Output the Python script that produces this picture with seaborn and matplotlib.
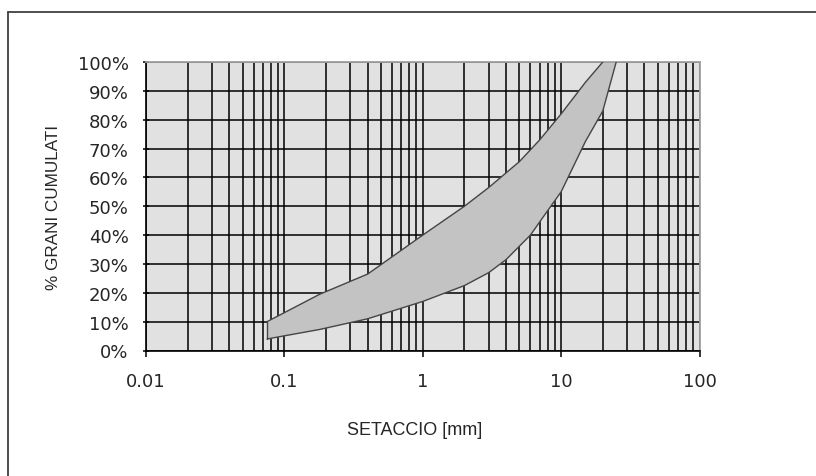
import matplotlib
matplotlib.use("Agg")
import matplotlib.pyplot as plt
import matplotlib.ticker as mticker
from matplotlib.lines import Line2D
import seaborn as sns
import pandas as pd

# ---- data ----
sieve_upper = [0.075, 0.18, 0.4, 1, 2, 3, 5, 7, 10, 15, 20]
pass_upper = [10, 19.5, 26.5, 40, 50, 56.5, 65.5, 73, 82, 93, 100]
sieve_lower = [0.075, 0.18, 0.4, 1, 2, 3, 4, 6, 8, 10, 15, 20, 25]
pass_lower = [4, 7.3, 11, 17, 22.5, 27, 31.5, 40, 48.5, 55, 72.5, 83, 100]
x_ticks = [0.01, 0.1, 1, 10, 100]
x_tick_labels = ["0.01", "0.1", "1", "10", "100"]
y_ticks = [0, 10, 20, 30, 40, 50, 60, 70, 80, 90, 100]
y_tick_labels = [f"{v}%" for v in y_ticks]

sns.set_style("white")
plt.rcParams["font.family"] = ["DejaVu Sans"]

fig = plt.figure(figsize=(8.16, 4.77), dpi=100)
ax = fig.add_axes([146 / 816, 1 - 351.5 / 477, (699.5 - 146) / 816, (351.5 - 63) / 477])
ax.set_facecolor("#e1e1e1")
ax.set_axisbelow(True)

df_up = pd.DataFrame({"d": sieve_upper, "p": pass_upper})
df_lo = pd.DataFrame({"d": sieve_lower, "p": pass_lower})

# filled envelope
poly_x = list(sieve_upper) + list(sieve_lower[::-1])
poly_y = list(pass_upper) + list(pass_lower[::-1])
ax.fill(poly_x, poly_y, facecolor="#c3c3c3", edgecolor="none", zorder=2)
sns.lineplot(data=df_up, x="d", y="p", ax=ax, color="#454545", lw=1.0, sort=False, zorder=3)
sns.lineplot(data=df_lo, x="d", y="p", ax=ax, color="#454545", lw=1.0, sort=False, zorder=3)
ax.plot([sieve_upper[0], sieve_lower[0]], [pass_upper[0], pass_lower[0]], color="#454545", lw=1.0, zorder=3)

ax.set_xscale("log")
ax.set_xlim(0.01, 100)
ax.set_ylim(0, 100)
ax.xaxis.set_minor_locator(mticker.LogLocator(base=10, subs=range(2, 10), numticks=20))
ax.xaxis.set_minor_formatter(mticker.NullFormatter())
ax.set_xticks(x_ticks)
ax.set_xticklabels(x_tick_labels)
ax.set_yticks(y_ticks)
ax.set_yticklabels(y_tick_labels)

ax.grid(which="major", axis="both", color="black", lw=1.1)
ax.grid(which="minor", axis="x", color="black", lw=1.1)

ax.tick_params(axis="x", which="major", direction="out", length=4.5, width=1.1,
               color="black", labelsize=13, pad=11, bottom=True)
ax.tick_params(axis="x", which="minor", length=0)
ax.tick_params(axis="y", which="major", direction="inout", length=5, width=1.1,
               color="black", labelsize=13, pad=10, left=True)

for s in ["left", "bottom"]:
    ax.spines[s].set_color("black")
    ax.spines[s].set_linewidth(1.2)
for s in ["top", "right"]:
    ax.spines[s].set_color("#a0a0a0")
    ax.spines[s].set_linewidth(1.3)

ax.set_xlabel("")
ax.set_ylabel("")
fig.text(415 / 816, 1 - 431 / 477, "SETACCIO [mm]", ha="center", va="center",
         fontsize=13, family=["Liberation Sans", "DejaVu Sans"])
fig.text(53 / 816, 1 - 207 / 477, "% GRANI CUMULATI", ha="center", va="center",
         rotation=90, fontsize=12.3, family=["Liberation Sans", "DejaVu Sans"])

# outer chart frame (left and top edges visible)
fig.add_artist(Line2D([8 / 816, 8 / 816], [0, 1 - 13 / 477], transform=fig.transFigure,
                      color="#404040", lw=1.3))
fig.add_artist(Line2D([8 / 816, 1], [1 - 13 / 477, 1 - 13 / 477], transform=fig.transFigure,
                      color="#404040", lw=1.3))

fig.savefig("out.png", dpi=100)
